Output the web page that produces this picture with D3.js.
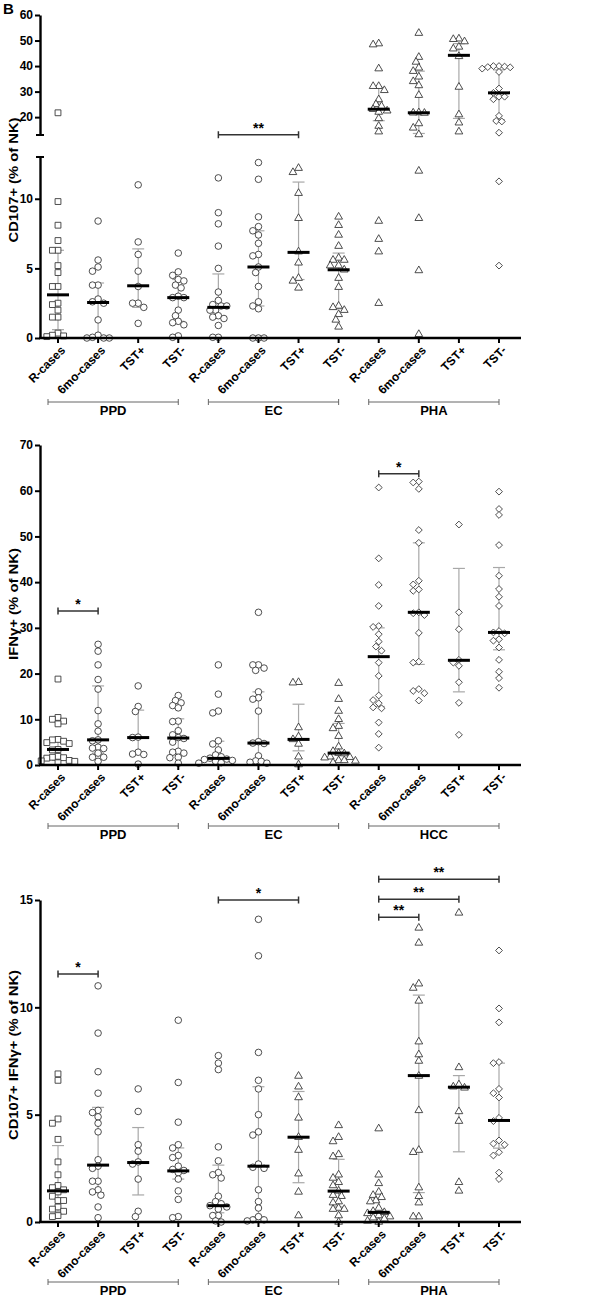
<!DOCTYPE html>
<html><head><meta charset="utf-8">
<script src="https://cdn.jsdelivr.net/npm/d3@7"></script>
<style>
body{margin:0;background:#fff;}
svg{display:block;font-family:"Liberation Sans",Arial,sans-serif;}
</style></head><body>
<svg id="c" width="604" height="1298"></svg>
<script>
// ---------- DATA ----------
const categories = ["R-cases","6mo-cases","TST+","TST-"];
const groups1 = ["PPD","EC","PHA"];
const groups2 = ["PPD","EC","HCC"];
const groups3 = ["PPD","EC","PHA"];
const shapes1 = ["square","circle","circle","circle","circle","circle","triangle","triangle","triangle","triangle","triangle","diamond"];
const shapes2 = ["square","circle","circle","circle","circle","circle","triangle","triangle","diamond","diamond","diamond","diamond"];
const shapes3 = ["square","circle","circle","circle","circle","circle","triangle","triangle","triangle","triangle","triangle","diamond"];

// Panel 1: CD107+ (% of NK)
const cd107Values = [
  [21.7,9.8,8.1,7.0,6.3,6.3,5.2,4.7,3.7,3.7,2.5,2.4,2.0,1.5,1.5,0.35,0.2,0.15,0.1],
  [8.4,5.6,5.1,4.8,3.8,3.8,2.8,2.6,2.5,1.3,0.2,0.05,0,0,0],
  [11.0,6.9,6.0,4.8,3.7,2.5,2.5,2.2,1.05],
  [6.1,4.75,4.5,4.2,4.1,3.8,3.6,3.0,2.9,2.9,2.0,1.6,1.2,1.1,0.95,0.15,0.05],
  [11.5,9.0,8.2,6.6,5.0,3.3,2.7,2.4,2.3,2.3,2.0,2.0,1.6,1.5,1.4,0.9,0.05,0.05],
  [12.6,11.4,8.7,8.0,7.7,7.4,6.8,6.0,5.9,5.1,4.7,3.7,2.6,2.3,2.1,0,0,0],
  [12.2,11.9,10.4,8.6,6.2,5.4,4.3,4.1,3.6],
  [8.7,8.1,7.4,6.6,5.75,5.6,5.6,5.2,5.2,4.9,4.3,3.65,2.3,2.2,2.0,1.7,1.3,0.8],
  [48.8,48.4,39.0,32.1,32.1,30.5,26.9,25.0,24.3,23.1,22.5,22.0,19.5,16.5,14.3,8.4,7.1,6.2,2.5],
  [52.9,43.5,41.6,39.3,38.0,35.8,34.0,32.4,28.6,21.8,21.7,21.6,17.5,15.8,13.2,12.0,8.6,4.85,0.27],
  [50.7,50.5,49.6,47.5,46.8,43.8,31.8,21.0,17.8,14.3],
  [40.0,40.0,39.8,39.6,39.5,39.0,37.7,31.2,29.5,28.0,28.0,27.0,20.5,18.5,18.3,13.9,11.25,5.2]
];
const cd107Median = [3.1,2.55,3.75,2.9,2.2,5.1,6.15,4.9,23.1,21.7,44.2,29.5];
const cd107Q1 = [0.6,0,2.2,1.2,1.5,2.3,4.2,2.1,18.6,13.6,19.5,19.0];
const cd107Q3 = [6.3,3.95,6.4,4.2,4.6,7.7,11.2,6.1,31.6,38.0,48.8,38.5];
const cd107TicksLow = [0,5,10];
const cd107TicksHigh = [20,30,40,50,60];
const cd107Sig = [{from:4,to:6,level:13.1,label:"**"}];

// Panel 2: IFNγ+ (% of NK)
const ifngValues = [
  [18.8,10.4,10.0,9.6,9.0,5.6,5.5,5.2,4.9,4.7,3.4,3.3,1.9,1.7,1.6,1.5,1.0,0.9,0.8,0.5],
  [26.4,24.9,21.9,18.7,16.6,11.9,9.0,7.4,5.5,5.3,3.9,3.7,3.6,2.6,1.7,1.7,0.8],
  [17.3,12.8,11.7,6.1,6.0,2.8,2.4,2.3,0.2],
  [15.2,14.1,13.6,13.0,12.5,9.6,9.5,7.5,6.6,6.0,5.8,5.0,3.0,2.8,2.6,1.7,1.6,0.4],
  [21.9,15.5,11.8,11.4,5.3,4.6,3.3,2.2,1.8,1.5,1.3,1.2,1.0,0.8,0.5,0.4],
  [33.4,21.9,21.9,21.2,20.7,16.0,14.7,14.4,11.8,5.1,4.8,4.7,2.0,0.9,0.8,0.6,0.4],
  [18.1,18.0,8.2,6.2,5.6,4.6,1.8,0.1],
  [17.9,14.4,11.8,10.0,8.5,8.0,6.3,4.0,3.0,2.6,2.5,1.8,1.7,1.6,1.0,1.0,0.9,0.5],
  [60.7,45.2,39.4,34.8,30.4,30.2,28.6,27.0,25.9,25.0,22.4,19.5,15.2,14.2,13.5,12.6,12.4,9.3,6.8,3.8],
  [62.0,61.8,60.4,51.4,48.6,40.3,39.5,38.4,38.1,33.4,33.2,32.8,28.9,22.6,22.4,16.6,16.2,15.7,14.1],
  [52.6,33.4,29.7,23.0,22.4,21.7,18.1,13.6,6.6],
  [59.8,56.0,54.7,48.1,41.4,38.5,36.8,34.8,29.3,29.0,28.8,27.5,27.2,25.7,23.0,20.4,19.0,16.9]
];
const ifngMedian = [3.4,5.5,6.0,5.9,1.45,4.8,5.6,2.6,23.7,33.4,22.9,29.0];
const ifngQ1 = [1.0,2.6,2.4,2.8,0.6,0.8,3.1,1.0,12.8,22.0,16.0,25.2];
const ifngQ3 = [5.6,17.3,12.0,10.1,5.2,16.0,13.3,9.1,30.0,48.6,43.0,43.2];
const ifngTicks = [0,10,20,30,40,50,60,70];
const ifngSig = [{from:0,to:1,level:33.7,label:"*"},{from:8,to:9,level:63.7,label:"*"}];

// Panel 3: CD107+ IFNγ+ (% of NK)
const dualValues = [
  [6.9,6.6,4.8,4.6,3.85,2.8,2.2,1.7,1.6,1.5,1.4,1.2,1.0,1.0,0.7,0.6,0.5,0.3,0.25],
  [11.0,8.8,7.0,6.0,5.2,5.1,4.9,4.6,4.2,2.9,2.6,2.5,1.9,1.9,1.5,1.4,1.25,0.7,0.2],
  [6.2,5.15,3.6,3.3,2.8,2.7,2.0,0.5,0.25],
  [9.4,6.5,4.65,3.6,3.45,3.1,3.0,2.6,2.45,2.4,2.3,2.0,1.45,1.05,0.25,0.2],
  [7.75,7.4,7.1,3.5,2.85,2.3,2.2,2.05,1.2,0.95,0.85,0.76,0.7,0.6,0.3,0.3,0.05,0.0],
  [14.1,12.4,7.9,6.6,6.2,5.0,4.2,4.05,2.7,2.55,2.5,1.5,0.95,0.65,0.25,0.1,0.1,0.05],
  [6.8,6.3,5.8,4.85,3.95,3.35,2.25,1.4,0.3],
  [4.5,3.95,3.75,3.15,3.05,2.2,2.05,1.85,1.7,1.45,1.25,1.2,0.95,0.9,0.65,0.6,0.6,0.3,0.0],
  [4.35,2.2,1.8,1.4,1.25,1.15,1.0,0.95,0.65,0.5,0.45,0.4,0.3,0.25,0.2,0.15,0.05,0.0],
  [13.7,13.0,11.1,10.9,10.3,8.4,7.8,7.5,6.8,5.2,3.35,3.25,1.6,1.2,0.9,0.25,0.25],
  [14.4,7.2,6.4,6.3,6.25,5.15,4.7,1.85,1.45],
  [12.65,9.95,9.3,7.45,7.4,6.2,6.0,5.8,4.85,4.7,3.8,3.65,3.6,3.25,3.1,2.3,2.0]
];
const dualMedian = [1.45,2.65,2.77,2.38,0.76,2.6,3.95,1.44,0.45,6.82,6.28,4.73];
const dualQ1 = [0.5,1.37,1.26,2.0,0.43,0.25,1.83,0.7,0.2,1.37,3.27,3.44];
const dualQ3 = [3.56,5.34,4.4,3.45,2.65,6.3,6.08,2.92,1.1,10.57,6.82,7.4];
const dualTicks = [0,5,10,15];
const dualSig = [
  {from:0,to:1,level:11.55,label:"*"},
  {from:4,to:6,level:15.0,label:"*"},
  {from:8,to:9,level:14.2,label:"**"},
  {from:8,to:10,level:15.04,label:"**"},
  {from:8,to:11,level:15.97,label:"**"}
];

// ---------- DRAWING ----------
const svg = d3.select("#c");
const AX = 40, XEND = 521;
const cols = d3.range(12);
const x = d3.scalePoint().domain(cols).range([58,499]);
const symTypes = {square:d3.symbolSquare, circle:d3.symbolCircle, triangle:d3.symbolTriangle, diamond:d3.symbolDiamond2};
const symSizes = {square:34, circle:34, triangle:26, diamond:30};
const INK = "#3a3a3a", GREY = "#a8a8a8";
const NARROW = "'Liberation Sans Narrow','Arial Narrow','Liberation Sans',sans-serif";

function swarm(vals, yf, cx, minD){
  const pts = vals.map(v=>({v, y:yf(v)}));
  const order = pts.slice().sort((a,b)=>a.y-b.y);
  const placed = [];
  const step = minD/2;
  for(const p of order){
    for(let k=0;k<60;k++){
      const off = k===0 ? 0 : (k%2 ? -1 : 1)*Math.ceil(k/2)*step;
      const px = cx+off;
      if(placed.every(q=>Math.hypot(q.x-px,q.y-p.y)>=minD-0.01)){p.x=px;break;}
    }
    placed.push(p);
  }
  return pts;
}

function drawPanel(cfg){
  const g = svg.append("g");
  const yf = cfg.y;
  const y0 = yf(0);
  // IQR error bars
  cols.forEach(i=>{
    const cx = x(i);
    g.append("line").attr("x1",cx).attr("x2",cx).attr("y1",yf(cfg.q1[i])).attr("y2",yf(cfg.q3[i]))
      .attr("stroke",GREY).attr("stroke-width",1.2);
    [cfg.q1[i],cfg.q3[i]].forEach(q=>g.append("line").attr("x1",cx-6).attr("x2",cx+6)
      .attr("y1",yf(q)).attr("y2",yf(q)).attr("stroke",GREY).attr("stroke-width",1.2));
  });
  // points
  cols.forEach(i=>{
    const pts = swarm(cfg.values[i], yf, x(i), 5.6);
    const sh = cfg.shapes[i];
    g.append("g").selectAll("path").data(pts).join("path")
      .attr("d", d3.symbol(symTypes[sh], symSizes[sh]))
      .attr("transform", d=>`translate(${d.x},${d.y})`)
      .attr("fill","#fff").attr("stroke",INK).attr("stroke-width",0.9);
  });
  // medians
  cols.forEach(i=>{
    g.append("line").attr("x1",x(i)-11).attr("x2",x(i)+11)
      .attr("y1",yf(cfg.median[i])).attr("y2",yf(cfg.median[i]))
      .attr("stroke","#000").attr("stroke-width",3);
  });
  // y axes
  cfg.axes.forEach(a=>{
    const ax = g.append("g").attr("transform",`translate(${AX},0)`)
      .call(d3.axisLeft(a.scale).tickValues(a.ticks).tickSize(5).tickSizeOuter(0).tickPadding(2).tickFormat(d3.format("d")));
    ax.select(".domain").attr("stroke","#000").attr("stroke-width",2.4);
    ax.selectAll(".tick line").attr("stroke","#000").attr("stroke-width",2);
    ax.selectAll(".tick text").attr("fill","#000").style("font-size","12px").style("font-weight","bold")
      .style("font-family",NARROW);
    if(a.caps) a.caps.forEach(c=>g.append("line").attr("x1",AX-4).attr("x2",AX+4)
      .attr("y1",a.scale(c)).attr("y2",a.scale(c)).attr("stroke","#000").attr("stroke-width",2));
  });
  // x axis line
  g.append("line").attr("x1",AX-1).attr("x2",XEND).attr("y1",y0).attr("y2",y0)
    .attr("stroke","#000").attr("stroke-width",2.6);
  cols.forEach(i=>{
    g.append("line").attr("x1",x(i)).attr("x2",x(i)).attr("y1",y0).attr("y2",y0+5)
      .attr("stroke","#000").attr("stroke-width",2);
    g.append("text").text(categories[i%4])
      .attr("transform",`translate(${x(i)+5},${y0+10}) rotate(-45)`)
      .attr("text-anchor","end").attr("dy","0.35em")
      .style("font-size","12px").style("font-weight","bold");
  });
  // group brackets
  const by = y0 + cfg.bracketOff;
  cfg.groups.forEach((gn,k)=>{
    const x1 = x(k*4)-10, x2 = x(k*4+3);
    g.append("line").attr("x1",x1).attr("x2",x2).attr("y1",by).attr("y2",by).attr("stroke","#666").attr("stroke-width",1);
    [x1,x2].forEach(xx=>g.append("line").attr("x1",xx).attr("x2",xx).attr("y1",by-3).attr("y2",by+3).attr("stroke","#666").attr("stroke-width",1));
    g.append("text").text(gn).attr("x",(x1+x2)/2).attr("y",by+13).attr("text-anchor","middle")
      .style("font-size","13px").style("font-weight","bold");
  });
  // significance brackets
  cfg.sig.forEach(s=>{
    const yy = yf(s.level), x1 = x(s.from), x2 = x(s.to);
    g.append("line").attr("x1",x1).attr("x2",x2).attr("y1",yy).attr("y2",yy).attr("stroke","#333").attr("stroke-width",1.5);
    [x1,x2].forEach(xx=>g.append("line").attr("x1",xx).attr("x2",xx).attr("y1",yy-3.5).attr("y2",yy+3.5).attr("stroke","#333").attr("stroke-width",1.5));
    g.append("text").text(s.label).attr("x",(x1+x2)/2).attr("y",yy-2).attr("text-anchor","middle")
      .style("font-size","14px").style("font-weight","bold");
  });
  // y title
  g.append("text").text(cfg.title)
    .attr("transform",`translate(18,${cfg.titleY}) rotate(-90)`)
    .attr("text-anchor","middle").attr("textLength",cfg.titleLen).attr("lengthAdjust","spacingAndGlyphs")
    .style("font-size","13px").style("font-weight","bold");
}

// Panel 1 scales (broken axis)
const yLow1 = d3.scaleLinear().domain([0,13]).range([338,157]);
const yHigh1 = d3.scaleLinear().domain([13,60]).range([135,15]);
const y1 = v => v<=13 ? yLow1(v) : yHigh1(v);

drawPanel({values:cd107Values, median:cd107Median, q1:cd107Q1, q3:cd107Q3, shapes:shapes1, groups:groups1,
  y:y1, axes:[{scale:yLow1,ticks:cd107TicksLow,caps:[13]},{scale:yHigh1,ticks:cd107TicksHigh,caps:[13]}],
  sig:cd107Sig, bracketOff:64, title:"CD107+ (% of NK)", titleY:180, titleLen:125});

const y2 = d3.scaleLinear().domain([0,70]).range([765,445]);
drawPanel({values:ifngValues, median:ifngMedian, q1:ifngQ1, q3:ifngQ3, shapes:shapes2, groups:groups2,
  y:y2, axes:[{scale:y2,ticks:ifngTicks}], sig:ifngSig, bracketOff:61,
  title:"IFNγ+ (% of NK)", titleY:604, titleLen:112});

const y3 = d3.scaleLinear().domain([0,15]).range([1222,900]);
drawPanel({values:dualValues, median:dualMedian, q1:dualQ1, q3:dualQ3, shapes:shapes3, groups:groups3,
  y:y3, axes:[{scale:y3,ticks:dualTicks}], sig:dualSig, bracketOff:60,
  title:"CD107+ IFNγ+ (% of NK)", titleY:1055, titleLen:170});

svg.append("text").text("B").attr("x",3).attr("y",14).style("font-size","15px").style("font-weight","bold");
</script>
</body></html>
